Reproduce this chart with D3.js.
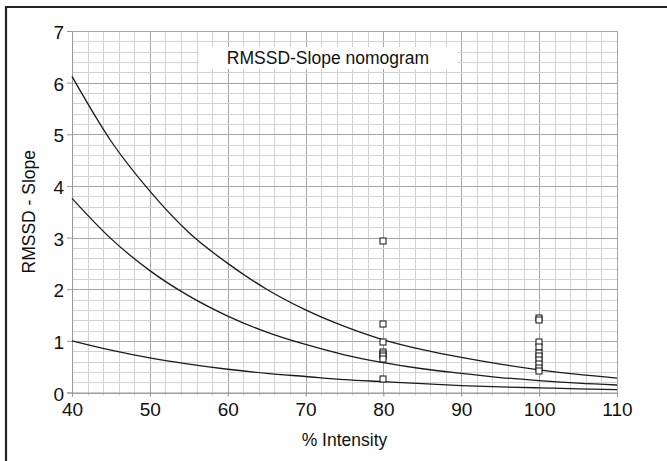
<!DOCTYPE html>
<html>
<head>
<meta charset="utf-8">
<script src="https://cdn.jsdelivr.net/npm/d3@7"></script>
<style>
    body { margin: 0; background: #fff; }
    text { font-family: "Liberation Sans", Arial, sans-serif; fill: #111; }
    .grid-minor { stroke: #d2d2d2; stroke-width: 1; }
    .grid-major { stroke: #a6a6a6; stroke-width: 1; }
    .curve { fill: none; stroke: #1a1a1a; stroke-width: 1.3; }
    .marker { fill: #fff; stroke: #111; stroke-width: 1; }
</style>
</head>
<body>
<div id="chart"></div>
<script>

// Curves (x = % intensity)
var curveX = [40, 45, 50, 55, 60, 65, 70, 75, 80, 85, 90, 95, 100, 105, 110];
var upperCurve = [6.12, 4.87, 3.9, 3.1, 2.5, 2.0, 1.6, 1.28, 1.02, 0.83, 0.68, 0.55, 0.44, 0.35, 0.28];
var middleCurve = [3.76, 2.98, 2.36, 1.87, 1.48, 1.17, 0.93, 0.73, 0.58, 0.46, 0.37, 0.29, 0.23, 0.18, 0.145];
var lowerCurve = [1.0, 0.82, 0.67, 0.55, 0.45, 0.37, 0.31, 0.25, 0.21, 0.17, 0.135, 0.11, 0.09, 0.07, 0.055];

// Measured points
var points80 = [2.93, 1.32, 0.98, 0.78, 0.74, 0.70, 0.65, 0.26];
var points100 = [1.45, 1.41, 0.98, 0.89, 0.77, 0.71, 0.63, 0.56, 0.48, 0.41];

var xTicks = [40, 50, 60, 70, 80, 90, 100, 110];
var yTicks = [0, 1, 2, 3, 4, 5, 6, 7];

var titleText = "RMSSD-Slope nomogram";
var xLabel = "% Intensity";
var yLabel = "RMSSD - Slope";

var width = 667, height = 461;
var margin = { top: 31, right: 50, bottom: 69, left: 72 };
var w = 617 - margin.left, h = 392.5 - margin.top;

var svg = d3.select("#chart").append("svg")
    .attr("width", width)
    .attr("height", height);

// outer frame (runs off the picture on the right and bottom)
svg.append("path")
    .attr("d", "M6,461 L6,7 L667,7")
    .attr("fill", "none")
    .attr("stroke", "#222")
    .attr("stroke-width", 2.2);

var g = svg.append("g")
    .attr("transform", "translate(" + margin.left + "," + margin.top + ")");

var x = d3.scaleLinear().domain([40, 110]).range([0, w]);
var y = d3.scaleLinear().domain([0, 7]).range([h, 0]);

// grid: minor every 2 on x, 0.2 on y
var xMinor = d3.range(40, 110.01, 2);
var yMinor = d3.range(0, 35.01, 1).map(function(d){ return d / 5; });

g.selectAll(".vgrid").data(xMinor).enter().append("line")
    .attr("class", function(d){ return d % 10 === 0 ? "grid-major" : "grid-minor"; })
    .attr("x1", function(d){ return Math.round(x(d)) + 0.5; })
    .attr("x2", function(d){ return Math.round(x(d)) + 0.5; })
    .attr("y1", 0)
    .attr("y2", h + 3);

g.selectAll(".hgrid").data(yMinor).enter().append("line")
    .attr("class", function(d, i){ return i % 5 === 0 ? "grid-major" : "grid-minor"; })
    .attr("x1", 0)
    .attr("x2", w)
    .attr("y1", function(d){ return Math.round(y(d)) + 0.5; })
    .attr("y2", function(d){ return Math.round(y(d)) + 0.5; });

// right border of the plot
g.append("line")
    .attr("class", "grid-major")
    .attr("x1", Math.round(w) + 0.5).attr("x2", Math.round(w) + 0.5)
    .attr("y1", 0).attr("y2", h + 4);

// axes
var xAxis = d3.axisBottom(x).tickValues(xTicks).tickSize(4).tickPadding(6)
    .tickFormat(d3.format("d"));
var yAxis = d3.axisLeft(y).tickValues(yTicks).tickSize(5).tickPadding(3)
    .tickFormat(d3.format("d"));

var xg = g.append("g")
    .attr("transform", "translate(0," + h + ")")
    .call(xAxis);
var yg = g.append("g").call(yAxis);

[xg, yg].forEach(function(a){
    a.select(".domain").attr("stroke", "#999");
    a.selectAll(".tick line").attr("stroke", "#999");
    a.selectAll(".tick text")
        .style("font-size", "19px")
        .attr("fill", "#111");
});
yg.selectAll(".tick text").attr("dy", "0.4em");

// title box
var tb = svg.append("g");
tb.append("rect")
    .attr("x", 199).attr("y", 47)
    .attr("width", 259).attr("height", 22)
    .attr("fill", "#fff");
tb.append("text")
    .attr("x", 328).attr("y", 64)
    .attr("text-anchor", "middle")
    .style("font-size", "17.5px")
    .text(titleText);

// curves
var line = d3.line()
    .curve(d3.curveMonotoneX)
    .x(function(d){ return x(d[0]); })
    .y(function(d){ return y(d[1]); });

[upperCurve, middleCurve, lowerCurve].forEach(function(c){
    g.append("path")
        .attr("class", "curve")
        .attr("d", line(curveX.map(function(v, i){ return [v, c[i]]; })));
});

// markers
var pts = points80.map(function(v){ return { x: 80, y: v }; })
    .concat(points100.map(function(v){ return { x: 100, y: v }; }));

g.selectAll(".marker").data(pts).enter().append("rect")
    .attr("class", "marker")
    .attr("x", function(d){ return Math.round(x(d.x)) - 3; })
    .attr("y", function(d){ return Math.round(y(d.y)) - 3; })
    .attr("width", 6)
    .attr("height", 6);

// axis labels
svg.append("text")
    .attr("x", margin.left + w / 2)
    .attr("y", 446)
    .attr("text-anchor", "middle")
    .style("font-size", "17.5px")
    .text(xLabel);

svg.append("text")
    .attr("transform", "translate(35," + (margin.top + h / 2) + ") rotate(-90)")
    .attr("text-anchor", "middle")
    .style("font-size", "17.5px")
    .text(yLabel);

</script>
</body>
</html>
